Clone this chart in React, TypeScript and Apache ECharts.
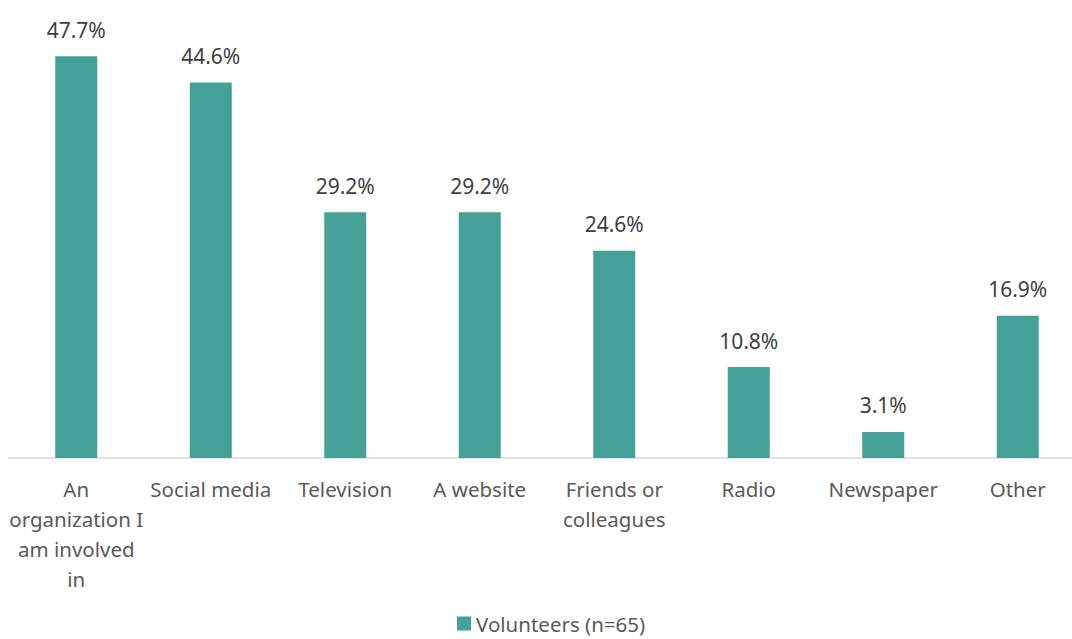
import React, { useEffect, useRef } from "react";
import * as echarts from "echarts";

const categories = [
  "An\norganization I\nam involved\nin",
  "Social media",
  "Television",
  "A website",
  "Friends or\ncolleagues",
  "Radio",
  "Newspaper",
  "Other",
];
const seriesName = "Volunteers (n=65)";
const values = [47.7, 44.6, 29.2, 29.2, 24.6, 10.8, 3.1, 16.9];

const FONT = "'Noto Sans', sans-serif";

export default function App() {
  const ref = useRef<HTMLDivElement>(null);
  useEffect(() => {
    if (!ref.current) return;
    const chart = echarts.init(ref.current, undefined, { renderer: "svg" });
    chart.setOption({
      animation: false,
      textStyle: { fontFamily: FONT },
      grid: {
        left: 9,
        width: 1076,
        top: 37,
        bottom: 181,
        containLabel: false,
        outerBoundsMode: "none",
      },
      legend: {
        data: [seriesName],
        bottom: 0,
        left: 452,
        itemWidth: 14,
        itemHeight: 14,
        itemGap: 6,
        icon: "rect",
        textStyle: { fontSize: 20.5, color: "#595959", fontFamily: FONT },
      },
      xAxis: {
        type: "category",
        data: categories,
        axisLine: { lineStyle: { color: "#d9d9d9", width: 1.5 } },
        axisTick: { show: false },
        axisLabel: {
          interval: 0,
          fontSize: 20.5,
          color: "#595959",
          lineHeight: 30,
          margin: 16,
          fontFamily: FONT,
        },
      },
      yAxis: {
        type: "value",
        min: 0,
        max: 50,
        show: false,
        splitLine: { show: false },
      },
      series: [
        {
          name: seriesName,
          type: "bar",
          data: values,
          barWidth: 42,
          itemStyle: { color: "#45a098" },
          label: {
            show: true,
            position: "top",
            distance: 16,
            fontSize: 21,
            color: "#404040",
            fontFamily: FONT,
            formatter: (p: any) => p.value.toFixed(1) + "%",
          },
        },
      ],
    });
    return () => chart.dispose();
  }, []);
  return <div ref={ref} style={{ width: 1072, height: 639, position: "absolute", left: 0, top: 0 }} />;
}
